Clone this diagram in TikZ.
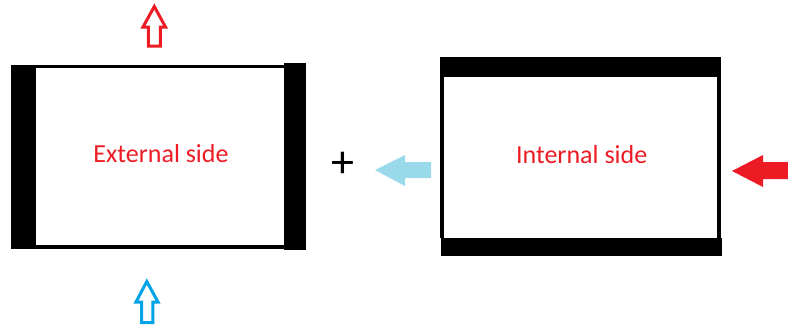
\documentclass[tikz,border=0pt]{standalone}
\usepackage{fontspec}
\setmainfont{Carlito}
\definecolor{paintred}{HTML}{ED1C24}
\definecolor{paintblue}{HTML}{00A2E8}
\definecolor{paintlightblue}{HTML}{99D9EA}
\begin{document}
\begin{tikzpicture}[x=1pt,y=-1pt,
  wall/.style={fill=black},
  inside/.style={fill=white},
  label/.style={text=paintred,font=\fontsize{26}{30}\selectfont,anchor=base,inner sep=0pt},
  hollowarrow/.style={line width=3pt,fill=white,line join=miter},
  solidarrow/.style={draw=none}]
\useasboundingbox[fill=white] (0,0) rectangle (788,327);

% external side: walls on left and right
\fill[wall] (11,65) rectangle (284,249);
\fill[wall] (284,63) rectangle (306,250);
\fill[inside] (36,68) rectangle (284,245);
\node[label] (ext) at (161,162) {External side};

% internal side: walls on top and bottom
\fill[wall] (440,57) rectangle (721,238);
\fill[wall] (440.7,238) rectangle (721.7,255.7);
\fill[inside] (444,77) rectangle (717,238);
\node[label] (int) at (581.7,163) {Internal side};

% plus sign between the two
\node[font=\fontsize{46}{50}\selectfont,inner sep=0pt] (plus) at (343,165) {+};

% outline arrows above and below the external side
\draw[hollowarrow,draw=paintred] (154.3,6.5) -- (165.5,27) -- (160.3,27) -- (160.3,46)
  -- (148.3,46) -- (148.3,27) -- (143,27) -- cycle;
\draw[hollowarrow,draw=paintblue] (146.8,281.5) -- (158,302) -- (152.8,302) -- (152.8,322.5)
  -- (141.5,322.5) -- (141.5,302) -- (136,302) -- cycle;

% filled arrows pointing left
\fill[paintlightblue] (375,170) -- (405,155) -- (405,162) -- (431,162) -- (431,178)
  -- (405,178) -- (405,186) -- cycle;
\fill[paintred] (732,171) -- (763,155) -- (763,162) -- (788,162) -- (788,179)
  -- (763,179) -- (763,187) -- cycle;
\end{tikzpicture}
\end{document}
